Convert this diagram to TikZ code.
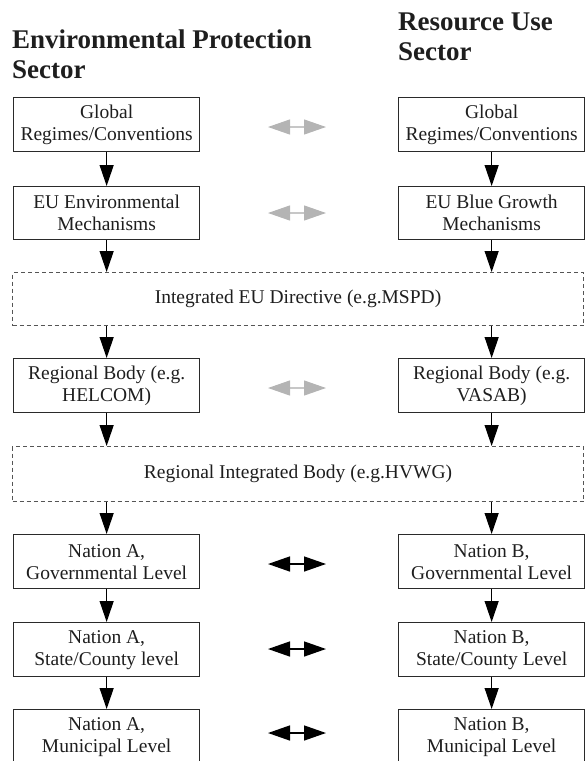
\documentclass[tikz,border=0pt]{standalone}
\usepackage{fontspec}
\setmainfont{Liberation Serif}
\usetikzlibrary{arrows.meta}
\definecolor{boxc}{HTML}{2A2A2A}
\definecolor{txt}{HTML}{1E1E1E}
\definecolor{dashc}{HTML}{555555}
\definecolor{lgray}{HTML}{B4B4B4}
\begin{document}
\begin{tikzpicture}[x=1pt,y=-1pt,
  box/.style={draw=boxc, line width=1.3pt, minimum width=186pt, minimum height=54pt,
    inner sep=0pt, align=center, text=txt, font=\fontsize{19.5}{22}\selectfont, anchor=north west},
  dbox/.style={draw=dashc, line width=1pt, dash pattern=on 4pt off 3pt, minimum width=571pt,
    minimum height=54pt, inner sep=0pt, text=txt, font=\fontsize{19.5}{22}\selectfont, anchor=north west},
  title/.style={anchor=north west, inner sep=0pt, align=left, text=txt,
    font=\fontsize{27}{30}\selectfont\bfseries},
  down/.style={line width=1.3pt, draw=black, -{Triangle[length=21pt,width=14pt]}},
  glink/.style={line width=1.1pt, draw=lgray!75, {Triangle[length=22pt,width=15pt,fill=lgray,color=lgray]}-{Triangle[length=22pt,width=15pt,fill=lgray,color=lgray]}},
  blink/.style={line width=1.4pt, draw=black, {Triangle[length=22pt,width=15pt]}-{Triangle[length=22pt,width=15pt]}}
]
\path[use as bounding box] (0,0) rectangle (585,761);
\clip (0,0) rectangle (585,761);

% titles
\node[title] (tl) at (12,30) {Environmental Protection\\Sector};
\node[title] (tr) at (398,13) {Resource Use\\Sector};

% left column
\node[box] (g1) at (13,97) {Global\\Regimes/Conventions};
\node[box, minimum height=53pt] (e1) at (13,186) {EU Environmental\\Mechanisms};
\node[box] (r1) at (13,358) {Regional Body (e.g.\\HELCOM)};
\node[box] (n1) at (13,534) {Nation A,\\Governmental Level};
\node[box] (s1) at (13,622) {Nation A,\\State/County level};
\node[box] (m1) at (13,709) {Nation A,\\Municipal Level};

% right column
\node[box] (g2) at (398,97) {Global\\Regimes/Conventions};
\node[box, minimum height=53pt] (e2) at (398,186) {EU Blue Growth\\Mechanisms};
\node[box] (r2) at (398,358) {Regional Body (e.g.\\VASAB)};
\node[box] (n2) at (398,534) {Nation B,\\Governmental Level};
\node[box] (s2) at (398,622) {Nation B,\\State/County Level};
\node[box] (m2) at (398,709) {Nation B,\\Municipal Level};

% dashed integrated bodies
\node[dbox, minimum height=53pt] (d1) at (12,272) {Integrated EU Directive (e.g.MSPD)};
\node[dbox, minimum height=55pt] (d2) at (12,446) {Regional Integrated Body (e.g.HVWG)};

% vertical arrows
\foreach \c in {1,2}{
  \draw[down] (g\c.south) -- (e\c.north);
  \draw[down] (e\c.south) -- (e\c.south |- d1.north);
  \draw[down] (r\c.north |- d1.south) -- (r\c.north);
  \draw[down] (r\c.south) -- (r\c.south |- d2.north);
  \draw[down] (n\c.north |- d2.south) -- (n\c.north);
  \draw[down] (n\c.south) -- (s\c.north);
  \draw[down] (s\c.south) -- (m\c.north);
}

% horizontal links
\coordinate (ha1) at (268,127); \coordinate (hb1) at (326,127);
\coordinate (ha2) at (268,213); \coordinate (hb2) at (326,213);
\coordinate (ha3) at (268,388); \coordinate (hb3) at (326,388);
\coordinate (ha4) at (268,564); \coordinate (hb4) at (326,564);
\coordinate (ha5) at (268,649); \coordinate (hb5) at (326,649);
\coordinate (ha6) at (268,733); \coordinate (hb6) at (326,733);
\draw[glink] (ha1) -- (hb1);
\draw[glink] (ha2) -- (hb2);
\draw[glink] (ha3) -- (hb3);
\draw[blink] (ha4) -- (hb4);
\draw[blink] (ha5) -- (hb5);
\draw[blink] (ha6) -- (hb6);
\end{tikzpicture}
\end{document}
